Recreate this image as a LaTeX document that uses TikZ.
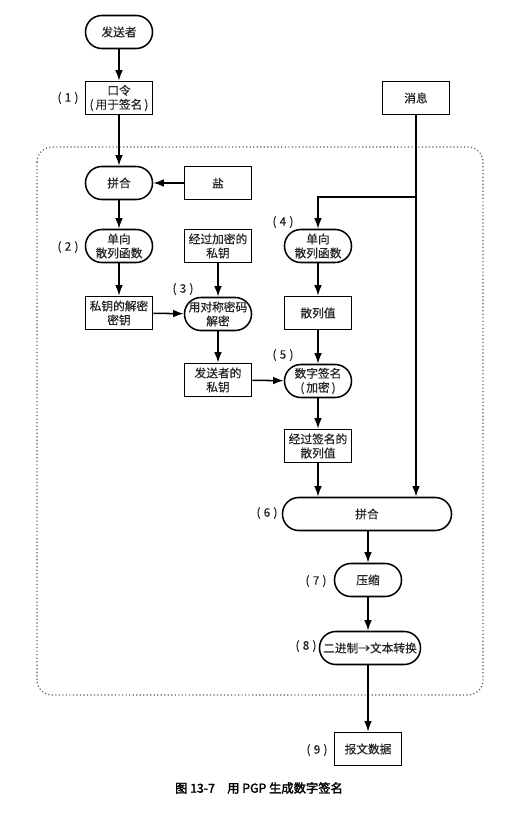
\documentclass[tikz,border=0pt]{standalone}
\usepackage{fontspec}
\setmainfont{Noto Sans CJK SC}[FakeBold=0.5]
\newfontfamily\capfont{Noto Sans CJK SC}[FakeBold=2.2]
\usetikzlibrary{arrows.meta}

\begin{document}
\begin{tikzpicture}[
  x=0.03cm, y=-0.03cm,
  >={Latex[length=3.2mm,width=2.3mm]},
  every node/.style = {font=\fontsize{10}{12}\selectfont, text=black!85},
  box/.style   = {
    draw=black, line width=1.3pt,
    align=center,
    inner xsep=2pt, inner ysep=1pt,
    minimum width=\boxw,
    minimum height=\boxh,
    fill=white
  },
  pill/.style  = {box, rounded corners=0.49cm},
  tag/.style   = {inner sep=0pt},
  flow/.style  = {->, line width=1.3pt}
]

% ---- constants ----
\def\boxw{2.01cm}     % width of the small boxes
\def\boxh{0.99cm}     % height of every box

\useasboundingbox (0,0) rectangle (515,819);

% ---- frame (dotted) ----
\draw[dotted, line width=1pt, black!65, rounded corners=0.45cm] (37,147) rectangle (483,695);

% ---- left column ----
\node[pill] (sender) at (119,32)  {发送者};
\node[box]  (pwd)    at (119,98)  {口令\\(\,用于签名\,)};
\node[pill] (cat1)   at (119,183) {拼合};
\node[box]  (salt)   at (218,183) {盐};
\node[pill] (hash1)  at (119,246) {单向\\散列函数};
\node[box]  (deckey) at (119,313) {私钥的解密\\密钥};

% ---- middle column ----
\node[box]  (enckey)  at (218,246) {经过加密的\\私钥};
\node[pill] (decrypt) at (218,314) {用对称密码\\解密};
\node[box]  (privkey) at (218,380) {发送者的\\私钥};

% ---- right column ----
\node[box]  (msg)     at (416,98)  {消息};
\node[pill] (hash2)   at (318,246) {单向\\散列函数};
\node[box]  (hashval) at (318,313) {散列值};
\node[pill] (sign)    at (318,381) {数字签名\\(\,加密\,)};
\node[box]  (signed)  at (318,446) {经过签名的\\散列值};

% ---- bottom chain ----
\node[pill, minimum width=5.07cm] (cat2)  at (367,514) {拼合};
\node[pill]                       (zip)   at (368,580) {压缩};
\node[pill, minimum width=3.03cm] (armor) at (370,648) {二进制→文本转换};
\node[box]                        (out)   at (368,749) {报文数据};

% ---- step numbers ----
\node[tag] (n1) at (68,98)   {(\;1\;)};
\node[tag] (n2) at (68,247)  {(\;2\;)};
\node[tag] (n3) at (183,289) {(\;3\;)};
\node[tag] (n4) at (283,222) {(\;4\;)};
\node[tag] (n5) at (283,355) {(\;5\;)};
\node[tag] (n6) at (267,513) {(\;6\;)};
\node[tag] (n7) at (316,581) {(\;7\;)};
\node[tag] (n8) at (306,646) {(\;8\;)};
\node[tag] (n9) at (317,750) {(\;9\;)};

% ---- arrows ----
\draw[flow] (sender) -- (pwd);
\draw[flow] (pwd) -- (cat1);
\draw[flow] (salt) -- (cat1);
\draw[flow] (cat1) -- (hash1);
\draw[flow] (hash1) -- (deckey);
\draw[flow] (deckey) -- (decrypt);
\draw[flow] (enckey) -- (decrypt);
\draw[flow] (decrypt) -- (privkey);
\draw[flow] (privkey) -- (sign);

\coordinate (split) at (msg |- 0,197);
\draw[flow] (msg) -- (msg |- cat2.north);
\draw[flow] (split) -| (hash2);
\draw[flow] (hash2) -- (hashval);
\draw[flow] (hashval) -- (sign);
\draw[flow] (sign) -- (signed);
\draw[flow] (signed) -- (signed |- cat2.north);

\draw[flow] (cat2.south -| zip) -- (zip);
\draw[flow] (zip) -- (zip |- armor.north);
\draw[flow] (armor.south -| out) -- (out);

% ---- caption ----
\node[font=\fontsize{10.5}{12}\selectfont\capfont, text=black] (cap) at (259,788)
  {图 13-7\quad 用 PGP 生成数字签名};

\end{tikzpicture}
\end{document}
